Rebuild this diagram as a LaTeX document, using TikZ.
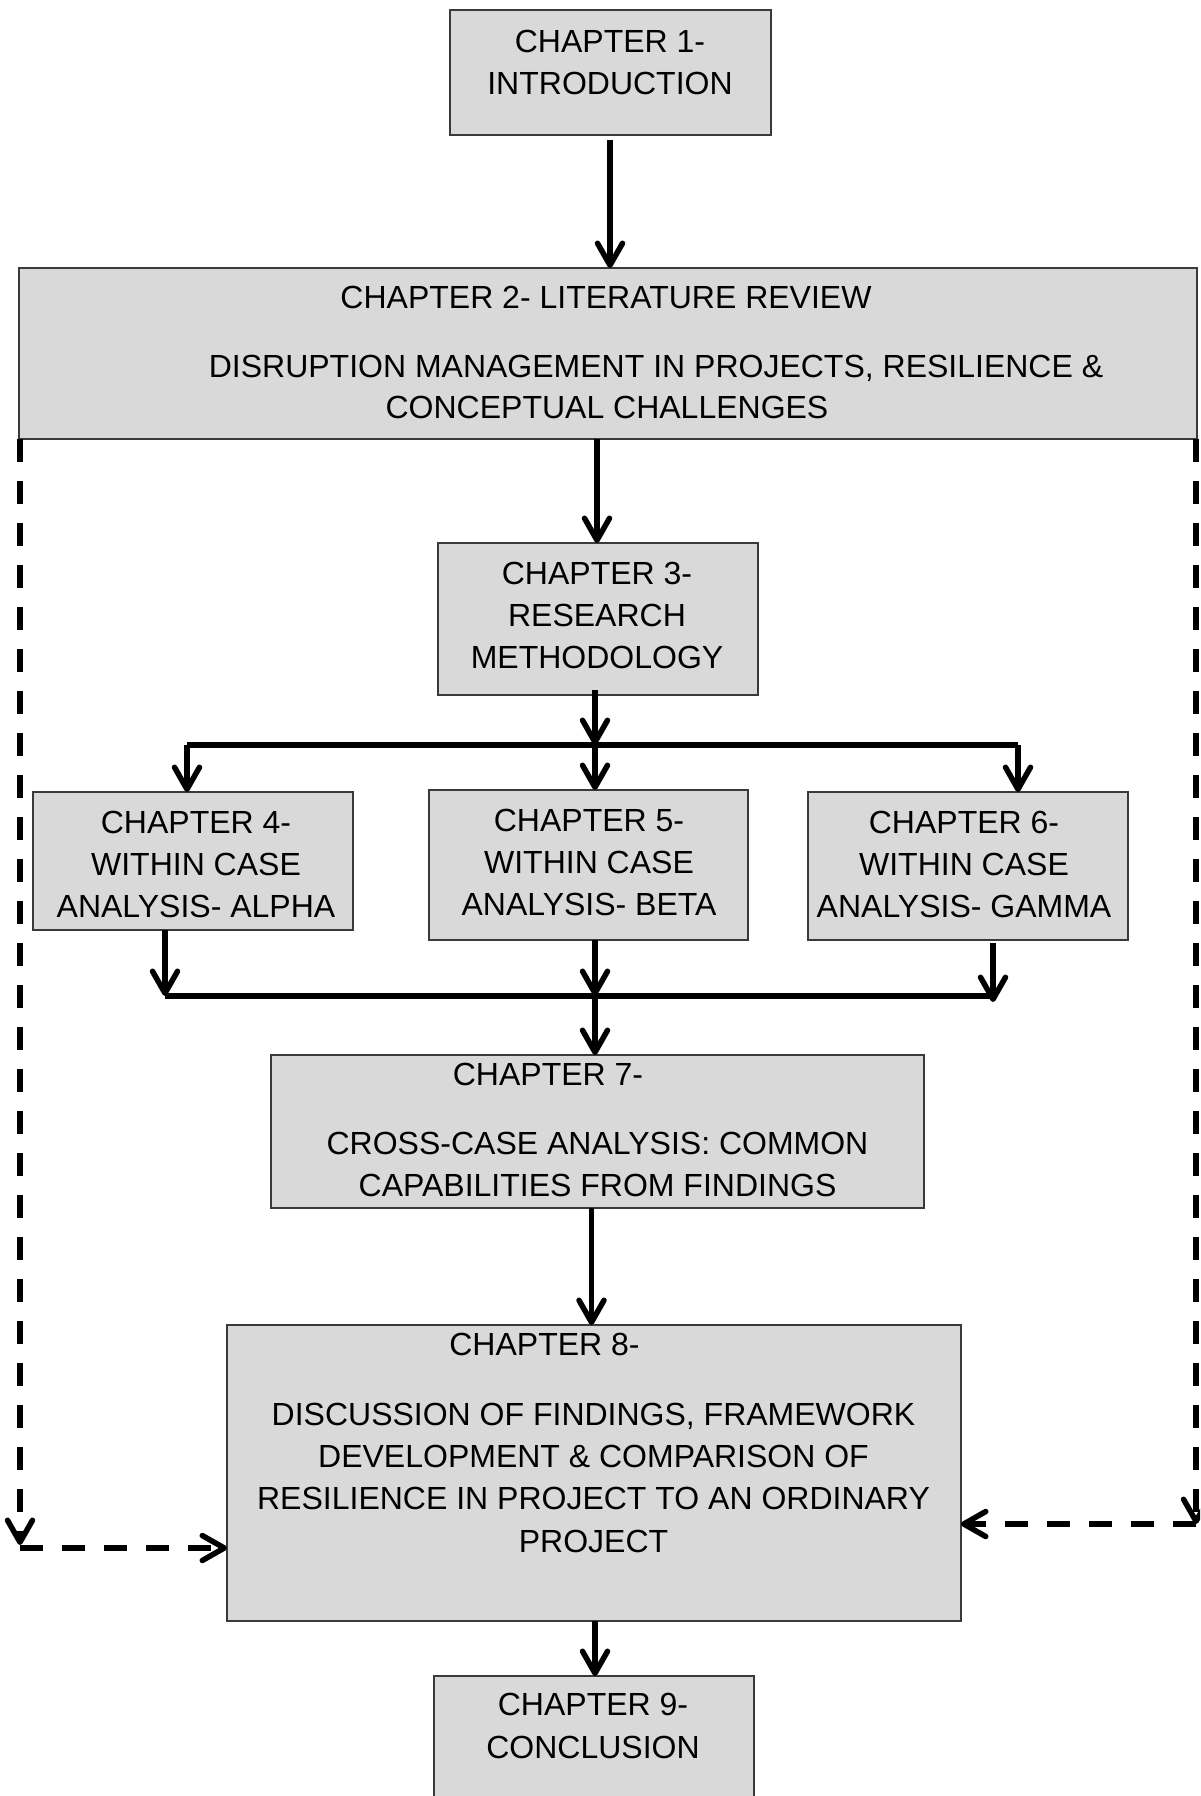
\documentclass[tikz,border=0pt]{standalone}
\usepackage{fontspec}
\setmainfont{Liberation Sans}
\usetikzlibrary{arrows.meta}
\definecolor{boxfill}{HTML}{D9D9D9}
\definecolor{boxline}{HTML}{3A3A3A}
\tikzset{
  chbox/.style={draw=boxline, line width=1.6pt, fill=boxfill, inner sep=0pt, outer sep=0pt},
  txt/.style={anchor=base, inner sep=0pt, font=\fontsize{32}{42}\selectfont},
  tipbarb/.tip={Straight Barb[length=22pt,width=25pt,round]},
  arr/.style={line width=5.5pt, -tipbarb},
  barline/.style={line width=5.5pt},
  dsh/.style={line width=5.5pt, dash pattern=on 23pt off 19pt, -tipbarb}
}
\begin{document}
\begin{tikzpicture}[x=1pt,y=-1pt]
\useasboundingbox (0,0) rectangle (1200,1796);
\clip (0,0) rectangle (1200,1796);
% boxes
\node[chbox, minimum width=321pt, minimum height=125pt] (b1) at (610.5,72.5) {};
\node[chbox, minimum width=1178pt, minimum height=171pt] (b2) at (608,353.5) {};
\node[chbox, minimum width=320pt, minimum height=152pt] (b3) at (598,619) {};
\node[chbox, minimum width=320pt, minimum height=138pt] (b4) at (193,861) {};
\node[chbox, minimum width=319pt, minimum height=150pt] (b5) at (588.5,865) {};
\node[chbox, minimum width=320pt, minimum height=148pt] (b6) at (968,866) {};
\node[chbox, minimum width=653pt, minimum height=153pt] (b7) at (597.5,1131.5) {};
\node[chbox, minimum width=734pt, minimum height=296pt] (b8) at (594,1473) {};
\node[chbox, minimum width=320pt, minimum height=160pt] (b9) at (594,1756) {};
% texts
\node[txt] (t1a) at (610,52) {CHAPTER 1-};
\node[txt] (t1b) at (610,94) {INTRODUCTION};
\node[txt] (t2a) at (606,308) {CHAPTER 2- LITERATURE REVIEW};
\node[txt] (t2b) at (656,377) {DISRUPTION MANAGEMENT IN PROJECTS, RESILIENCE \&};
\node[txt] (t2c) at (607,418) {CONCEPTUAL CHALLENGES};
\node[txt] (t3a) at (597,584) {CHAPTER 3-};
\node[txt] (t3b) at (597,626) {RESEARCH};
\node[txt] (t3c) at (597,668) {METHODOLOGY};
\node[txt] (t4a) at (196,833) {CHAPTER 4-};
\node[txt] (t4b) at (196,875.5) {WITHIN CASE};
\node[txt] (t4c) at (196,917.5) {ANALYSIS- ALPHA};
\node[txt] (t5a) at (589,831) {CHAPTER 5-};
\node[txt] (t5b) at (589,873) {WITHIN CASE};
\node[txt] (t5c) at (589,915) {ANALYSIS- BETA};
\node[txt] (t6a) at (964,833.5) {CHAPTER 6-};
\node[txt] (t6b) at (964,875.5) {WITHIN CASE};
\node[txt] (t6c) at (964,917.5) {ANALYSIS- GAMMA};
\node[txt] (t7a) at (548,1085.5) {CHAPTER 7-};
\node[txt] (t7b) at (597.5,1154.5) {CROSS-CASE ANALYSIS: COMMON};
\node[txt] (t7c) at (597.5,1196) {CAPABILITIES FROM FINDINGS};
\node[txt] (t8a) at (544.5,1355.5) {CHAPTER 8-};
\node[txt] (t8b) at (593.5,1425) {DISCUSSION OF FINDINGS, FRAMEWORK};
\node[txt] (t8c) at (593.5,1467) {DEVELOPMENT \& COMPARISON OF};
\node[txt] (t8d) at (593.5,1509.5) {RESILIENCE IN PROJECT TO AN ORDINARY};
\node[txt] (t8e) at (593.5,1552) {PROJECT};
\node[txt] (t9a) at (593,1715.5) {CHAPTER 9-};
\node[txt] (t9b) at (593,1758) {CONCLUSION};
% junction coordinates
\coordinate (s1) at (610,140);
\coordinate (s2) at (597,439);
\coordinate (j1) at (595,745);
\coordinate (jL) at (187,745);
\coordinate (jR) at (1018,745);
\coordinate (k1) at (165,996);
\coordinate (k2) at (595,996);
\coordinate (k3) at (993,996);
\coordinate (s7) at (591.5,1208);
\coordinate (s8) at (595,1621);
\coordinate (dl) at (20,1548);
\coordinate (dr) at (1196,1524);
% solid connectors
\draw[arr] (s1) -- (s1 |- b2.north);
\draw[arr] (s2) -- (s2 |- b3.north);
\draw[arr] (j1 |- b3.south) ++(0,-5) -- (j1);
\draw[barline] (jL) -- (jR);
\draw[arr] (jL) -- (jL |- b4.north);
\draw[arr] (j1) -- (j1 |- b5.north);
\draw[arr] (jR) -- (jR |- b6.north);
\draw[arr] (k1 |- b4.south) -- (k1);
\draw[arr] (k2 |- b5.south) -- (k2);
\draw[arr] ([yshift=-3pt]k3 |- b6.south) -- ([yshift=-6pt]k3);
\draw[barline] (k1) -- (k3);
\draw[arr] (k2) -- (k2 |- b7.north);
\draw[arr] (s7) -- (s7 |- b8.north);
\draw[arr] (s8) -- (s8 |- b9.north);
% dashed feedback connectors
\draw[dsh] (dl |- b2.south) -- ([yshift=3pt]dl);
\draw[dsh] (dl) -- (dl -| b8.west);
\draw[dsh] (dr |- b2.south) -- (dr);
\draw[dsh] (dr) -- (dr -| b8.east);
\end{tikzpicture}
\end{document}
